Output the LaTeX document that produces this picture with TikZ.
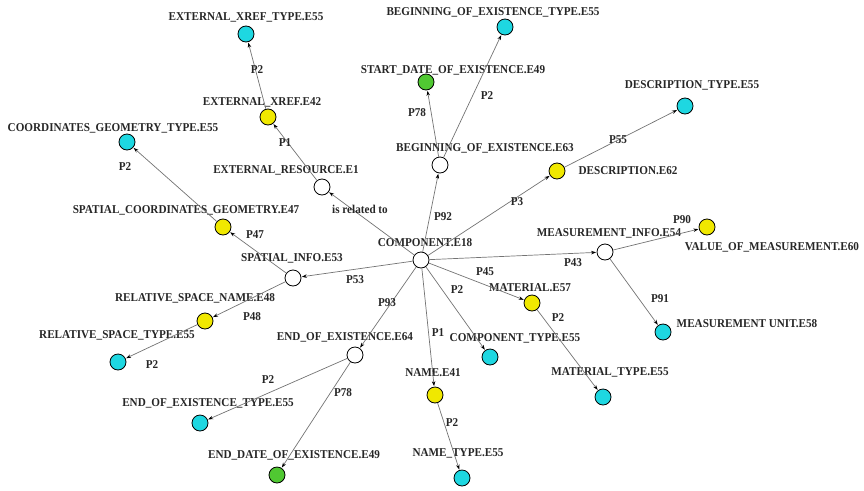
\documentclass[tikz,border=0pt]{standalone}
\usepackage{fontspec}
\setmainfont{Liberation Serif}[FakeStretch=0.93]
\usepackage{tikz}
\usetikzlibrary{arrows.meta}

\definecolor{typecyan}{RGB}{30,215,225}
\definecolor{valyellow}{RGB}{240,232,0}
\definecolor{dategreen}{RGB}{80,200,50}

\begin{document}
\begin{tikzpicture}[x=1pt,y=-1pt,
  -{Stealth[length=5pt,width=3.5pt,black]},shorten >=0.5pt,
  entity/.style={circle,draw=black,line width=0.8pt,minimum size=16pt,inner sep=0pt,fill=white},
  typenode/.style={entity,fill=typecyan},
  valnode/.style={entity,fill=valyellow},
  datenode/.style={entity,fill=dategreen},
  tag/.style={font=\bfseries\fontsize{12}{14}\selectfont,inner sep=1pt,text=black!85},
  link/.style={draw=black!55,line width=0.7pt}]

  \useasboundingbox (0,0) rectangle (864,490);

  % entities
  \node[entity]   (comp)      at (421,260) {};
  \node[entity]   (extres)    at (322,187) {};
  \node[valnode]  (xref)      at (268,117) {};
  \node[typenode] (xreftype)  at (246,34)  {};
  \node[entity]   (begin)     at (440,165) {};
  \node[datenode] (startdate) at (426,82)  {};
  \node[typenode] (begintype) at (505,27)  {};
  \node[valnode]  (descr)     at (557,171) {};
  \node[typenode] (descrtype) at (685,106) {};
  \node[entity]   (measinfo)  at (605,252) {};
  \node[valnode]  (measval)   at (707,227) {};
  \node[typenode] (measunit)  at (663,332) {};
  \node[valnode]  (material)  at (532,303) {};
  \node[typenode] (mattype)   at (603,397) {};
  \node[typenode] (comptype)  at (490,357) {};
  \node[valnode]  (name)      at (435,395) {};
  \node[typenode] (nametype)  at (462,478) {};
  \node[entity]   (endex)     at (355,355) {};
  \node[typenode] (endtype)   at (200,423) {};
  \node[datenode] (enddate)   at (277,475) {};
  \node[entity]   (spatial)   at (293,278) {};
  \node[valnode]  (coordgeo)  at (223,227) {};
  \node[typenode] (coordtype) at (127,142) {};
  \node[valnode]  (relname)   at (205,321) {};
  \node[typenode] (reltype)   at (118,362) {};

  % entity names
  \node[tag] (comp-t)      at (425,243) {COMPONENT.E18};
  \node[tag] (extres-t)    at (286,170) {EXTERNAL\_RESOURCE.E1};
  \node[tag] (xref-t)      at (262,102) {EXTERNAL\_XREF.E42};
  \node[tag] (xreftype-t)  at (246,17)  {EXTERNAL\_XREF\_TYPE.E55};
  \node[tag] (begin-t)     at (485,148) {BEGINNING\_OF\_EXISTENCE.E63};
  \node[tag] (startdate-t) at (453,70)  {START\_DATE\_OF\_EXISTENCE.E49};
  \node[tag] (begintype-t) at (493,12)  {BEGINNING\_OF\_EXISTENCE\_TYPE.E55};
  \node[tag] (descr-t)     at (628,171) {DESCRIPTION.E62};
  \node[tag] (descrtype-t) at (692,85)  {DESCRIPTION\_TYPE.E55};
  \node[tag] (measinfo-t)  at (609,233) {MEASUREMENT\_INFO.E54};
  \node[tag] (measval-t)   at (772,247) {VALUE\_OF\_MEASUREMENT.E60};
  \node[tag] (measunit-t)  at (747,324) {MEASUREMENT UNIT.E58};
  \node[tag] (material-t)  at (530,288) {MATERIAL.E57};
  \node[tag] (mattype-t)   at (610,372) {MATERIAL\_TYPE.E55};
  \node[tag] (comptype-t)  at (515,338) {COMPONENT\_TYPE.E55};
  \node[tag] (name-t)      at (433,373) {NAME.E41};
  \node[tag] (nametype-t)  at (458,453) {NAME\_TYPE.E55};
  \node[tag] (endex-t)     at (345,337) {END\_OF\_EXISTENCE.E64};
  \node[tag] (endtype-t)   at (208,403) {END\_OF\_EXISTENCE\_TYPE.E55};
  \node[tag] (enddate-t)   at (294,455) {END\_DATE\_OF\_EXISTENCE.E49};
  \node[tag] (spatial-t)   at (292,258) {SPATIAL\_INFO.E53};
  \node[tag] (coordgeo-t)  at (186,210) {SPATIAL\_COORDINATES\_GEOMETRY.E47};
  \node[tag] (coordtype-t) at (113,128) {COORDINATES\_GEOMETRY\_TYPE.E55};
  \node[tag] (relname-t)   at (195,298) {RELATIVE\_SPACE\_NAME.E48};
  \node[tag] (reltype-t)   at (117,335) {RELATIVE\_SPACE\_TYPE.E55};

  % properties
  \path[link]
    (comp) edge (extres)
           edge (begin)
           edge (descr)
           edge (measinfo)
           edge (material)
           edge (comptype)
           edge (name)
           edge (endex)
           edge (spatial)
    (extres) edge (xref)
    (xref) edge (xreftype)
    (begin) edge (startdate)
            edge (begintype)
    (descr) edge (descrtype)
    (measinfo) edge (measval)
               edge (measunit)
    (material) edge (mattype)
    (name) edge (nametype)
    (endex) edge (endtype)
            edge (enddate)
    (spatial) edge (coordgeo)
              edge (relname)
    (coordgeo) edge (coordtype)
    (relname) edge (reltype);

  % property labels
  \node[tag] (p-rel)  at (360,209) {is related to};
  \node[tag] (p-x1)   at (285,143) {P1};
  \node[tag] (p-x2)   at (257,70)  {P2};
  \node[tag] (p-b92)  at (443,217) {P92};
  \node[tag] (p-b78)  at (417,113) {P78};
  \node[tag] (p-b2)   at (487,96)  {P2};
  \node[tag] (p-d3)   at (517,202) {P3};
  \node[tag] (p-d55)  at (618,140) {P55};
  \node[tag] (p-m43)  at (573,263) {P43};
  \node[tag] (p-m90)  at (682,220) {P90};
  \node[tag] (p-m91)  at (660,299) {P91};
  \node[tag] (p-t45)  at (485,272) {P45};
  \node[tag] (p-t2)   at (558,318) {P2};
  \node[tag] (p-c2)   at (457,290) {P2};
  \node[tag] (p-n1)   at (438,333) {P1};
  \node[tag] (p-n2)   at (452,423) {P2};
  \node[tag] (p-e93)  at (387,303) {P93};
  \node[tag] (p-e2)   at (268,380) {P2};
  \node[tag] (p-e78)  at (343,393) {P78};
  \node[tag] (p-s53)  at (355,280) {P53};
  \node[tag] (p-s47)  at (255,235) {P47};
  \node[tag] (p-g2)   at (125,167) {P2};
  \node[tag] (p-s48)  at (252,317) {P48};
  \node[tag] (p-r2)   at (152,365) {P2};
\end{tikzpicture}
\end{document}
